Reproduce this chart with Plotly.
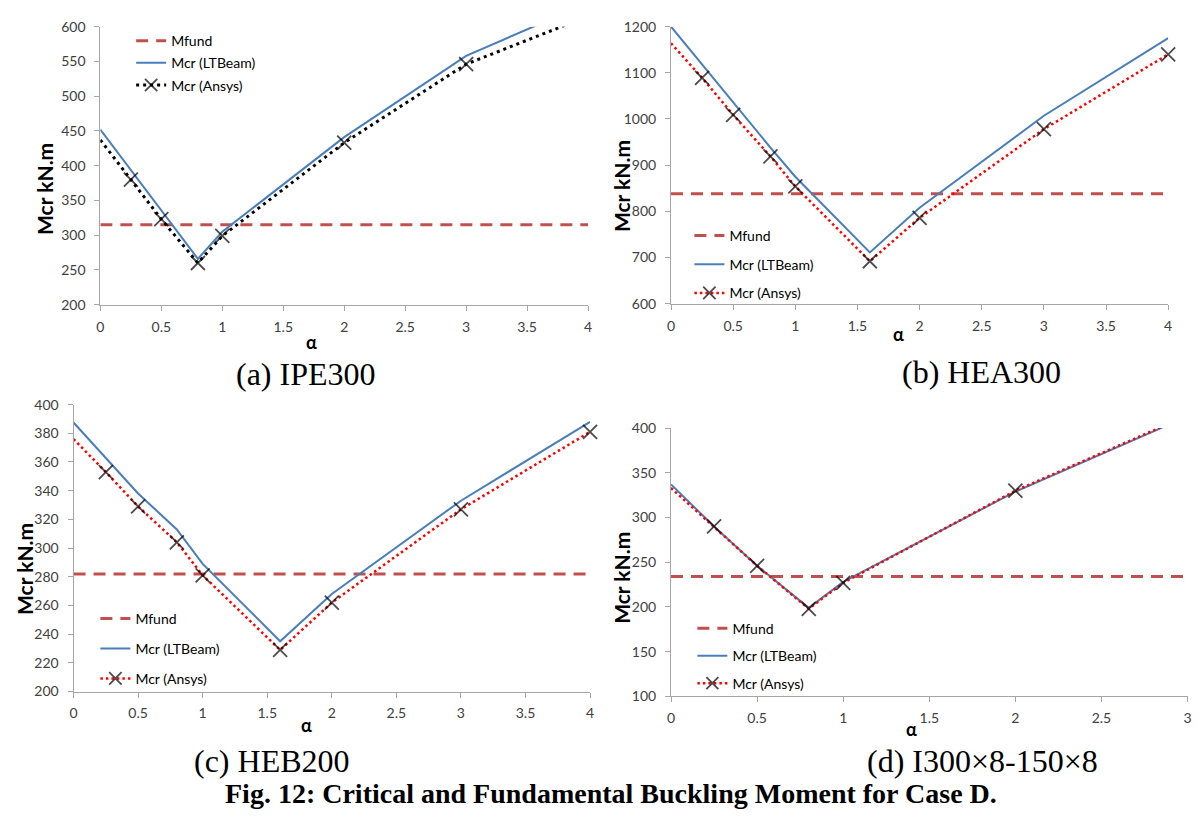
import plotly.graph_objects as go

W, H = 1199, 818

# ---------------- data ----------------
# (a) IPE300
a_alpha = [0, 0.25, 0.5, 0.8, 1, 2, 3, 4]
a_ltbeam = [452, 394, 335, 266, 305, 441, 558, 634]
a_ansys = [437, 380, 323, 260, 299, 433, 546, 615]
a_mfund = 315

# (b) HEA300
b_alpha = [0, 0.25, 0.5, 0.8, 1, 1.6, 2, 3, 4]
b_ltbeam = [1200, 1118, 1036, 938, 875, 711, 808, 1007, 1175]
b_ansys = [1164, 1089, 1009, 919, 854, 692, 786, 978, 1140]
b_mfund = 838

# (c) HEB200
c_alpha = [0, 0.25, 0.5, 0.8, 1, 1.6, 2, 3, 4]
c_ltbeam = [387.5, 363, 338, 313, 289, 235, 268, 333, 388]
c_ansys = [376, 353, 329, 304, 281, 229, 262, 327, 381]
c_mfund = 282

# (d) I300x8-150x8
d_alpha = [0, 0.25, 0.5, 0.8, 1, 2, 3]
d_ltbeam = [337, 290, 246, 199, 228, 329, 413]
d_ansys = [333, 290, 246, 198, 227, 330, 414]
d_mfund = 234

captions = ["(a) IPE300", "(b) HEA300", "(c) HEB200", "(d) I300×8-150×8"]
fig_title = "Fig. 12: Critical and Fundamental Buckling Moment for Case D."
names = ["Mfund", "Mcr (LTBeam)", "Mcr (Ansys)"]

# ---------------- styling / layout ----------------
MF_COL = "#C0504D"
LT_COL = "#4A7EBB"
AXC = "#A6A6A6"
TXT = "#404040"
SANS = "Lato"
SERIF = "Liberation Serif"

# pixel boxes: (x_left, x_right, y_top, y_bottom)
boxes = [
    (97, 588, 18, 302),
    (671.5, 1172, 18, 301),
    (70, 590, 404, 697),
    (671.5, 1191.5, 428, 702),
]
xranges = [(0, 4), (0, 4), (0, 4), (0, 3)]
yranges = [(200, 600), (600, 1200), (200, 400), (100, 400)]
ydticks = [50, 100, 20, 50]
clip_markers = [True, False, False, True]

panels = [
    (a_alpha, a_ltbeam, a_ansys, a_mfund, "#000000", "3px,4px", 3.0),
    (b_alpha, b_ltbeam, b_ansys, b_mfund, "#FF0000", "2.5px,3px", 2.5),
    (c_alpha, c_ltbeam, c_ansys, c_mfund, "#FF0000", "2.5px,3px", 2.5),
    (d_alpha, d_ltbeam, d_ansys, d_mfund, "#FF0000", "2.5px,3px", 2.5),
]

fig = go.Figure()
layout = dict(
    width=W, height=H,
    margin=dict(l=0, r=0, t=0, b=0),
    paper_bgcolor="white", plot_bgcolor="white",
    showlegend=True,
    font=dict(family=SANS, size=14, color=TXT),
)

legend_keys = ["legend", "legend2", "legend3", "legend4"]
# legend text start x, first row centre y, gap between rows
leg_pos = [(168, 32, 1), (730, 231, 7.5), (132, 622, 8.8), (733, 632, 6.3)]

for i, (alpha, lt, an, mf, ancol, andash, anw) in enumerate(panels):
    k = "" if i == 0 else str(i + 1)
    xa, ya = "x" + k, "y" + k
    lg = legend_keys[i]
    x0, x1 = xranges[i]
    fig.add_trace(go.Scatter(
        x=[x0, x1], y=[mf, mf], mode="lines", name=names[0],
        line=dict(color=MF_COL, width=3, dash="12px,8px"),
        xaxis=xa, yaxis=ya, legend=lg, legendgroup=f"g{i}a", hoverinfo="skip"))
    fig.add_trace(go.Scatter(
        x=alpha, y=lt, mode="lines", name=names[1],
        line=dict(color=LT_COL, width=2),
        xaxis=xa, yaxis=ya, legend=lg, legendgroup=f"g{i}b", hoverinfo="skip"))
    sizes = [0] + [14] * (len(alpha) - 1)
    fig.add_trace(go.Scatter(
        x=alpha, y=an, mode="lines+markers", name=names[2],
        line=dict(color=ancol, width=anw, dash=andash),
        marker=dict(symbol="x-thin", size=sizes, color="black",
                    line=dict(color="black", width=1.8)),
        cliponaxis=clip_markers[i],
        xaxis=xa, yaxis=ya, legend=lg, legendgroup=f"g{i}c", hoverinfo="skip"))

    bl, br, bt, bb = boxes[i]
    axis_common = dict(
        showline=True, linecolor=AXC, linewidth=1,
        ticks="outside", ticklen=5, tickcolor=AXC, tickwidth=1,
        showgrid=False, zeroline=False,
        tickfont=dict(family=SANS, size=14, color=TXT),
        fixedrange=True,
    )
    layout["xaxis" + k] = dict(
        axis_common, domain=[bl / W, br / W], range=[x0, x1],
        dtick=0.5, tick0=0, anchor=ya, ticklabelstandoff=4)
    layout["yaxis" + k] = dict(
        axis_common, domain=[1 - bb / H, 1 - bt / H],
        range=list(yranges[i]), dtick=ydticks[i], anchor=xa,
        ticklabelstandoff=6)

    tx, ty, gap = leg_pos[i]
    layout[lg] = dict(
        x=(tx - 40) / W, y=1 - (ty - 15.6) / H, xanchor="left", yanchor="top",
        bgcolor="rgba(0,0,0,0)", borderwidth=0,
        font=dict(family=SANS, size=14, color="#000000"),
        tracegroupgap=gap, itemwidth=30,
    )

fig.update_layout(**layout)

ann = []
ytitle_pos = [(40, 184), (621, 181), (20, 572), (622, 581)]
alpha_pos = [(310, 340), (901, 332), (305, 731), (914, 735)]
cap_pos = [(304, 373), (984, 371), (270, 768), (985, 768)]
for i in range(4):
    px, py = ytitle_pos[i]
    ann.append(dict(x=px / W, y=1 - py / H, xref="paper", yref="paper",
                    text="<b>Mcr kN.m</b>", showarrow=False, textangle=-90,
                    font=dict(family=SANS, size=21, color="#000000"),
                    xanchor="center", yanchor="middle"))
    px, py = alpha_pos[i]
    ann.append(dict(x=px / W, y=1 - py / H, xref="paper", yref="paper",
                    text="<b>α</b>", showarrow=False,
                    font=dict(family=SANS, size=18, color="#000000"),
                    xanchor="center", yanchor="middle"))
    px, py = cap_pos[i]
    ann.append(dict(x=px / W, y=1 - py / H, xref="paper", yref="paper",
                    text=captions[i], showarrow=False,
                    font=dict(family=SERIF, size=32, color="#000000"),
                    xanchor="center", yanchor="middle"))
ann.append(dict(x=611 / W, y=1 - 801 / H, xref="paper", yref="paper",
                text="<b>" + fig_title + "</b>", showarrow=False,
                font=dict(family=SERIF, size=28, color="#000000"),
                xanchor="center", yanchor="middle"))
fig.update_layout(annotations=ann)

fig.write_html("out.html")
